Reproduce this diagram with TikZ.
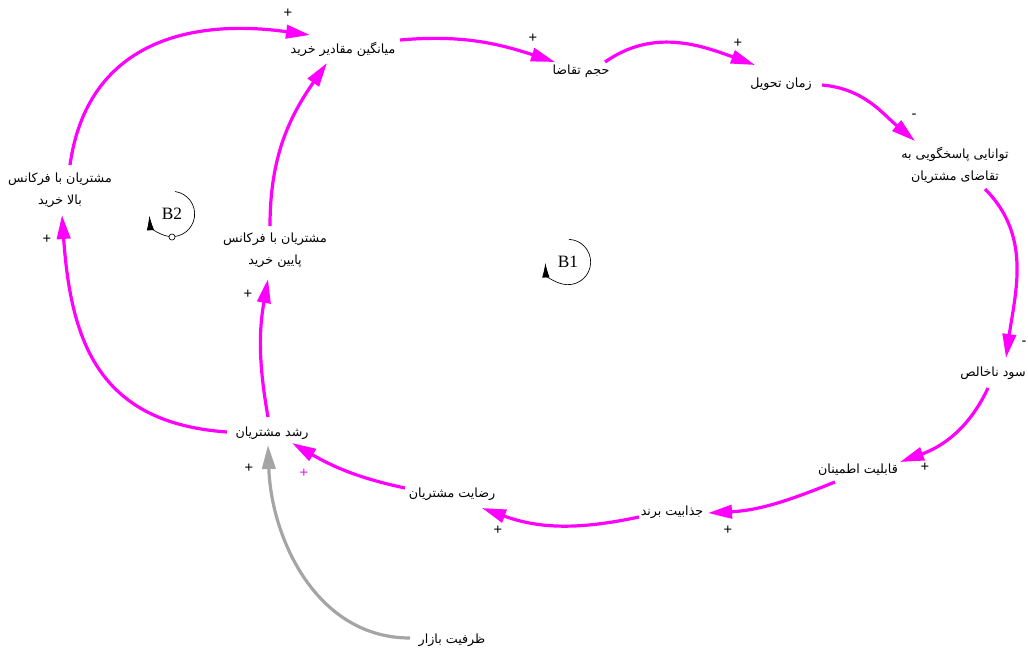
\documentclass[tikz,border=0pt]{standalone}
\usepackage{fontspec}
\setmainfont{Liberation Serif}
\setsansfont{Liberation Sans}
\newfontfamily\arabicfont[Script=Arabic]{DejaVu Sans}
\TeXXeTstate=1
\usetikzlibrary{arrows.meta,calc}
\definecolor{loopmag}{RGB}{255,0,255}
\definecolor{capgray}{RGB}{165,165,165}
\tikzset{%
    var/.style={inner sep=1pt, align=center,
        font=\arabicfont\fontsize{9.5}{16.5}\selectfont},
    link/.style={draw=loopmag, line width=2.4pt,
        -{Triangle[length=18pt, width=10pt]}},
    sign/.style={inner sep=0pt, font=\sffamily\fontsize{11}{11}\selectfont},
    loopname/.style={inner sep=0pt, font=\fontsize{13}{13}\selectfont},
    looparc/.style={line width=0.5pt, -{Latex[length=11pt, width=5.5pt]}}
}

\begin{document}
\begin{tikzpicture}[x=0.75pt, y=0.75pt]
  \useasboundingbox (0,0) rectangle (1028,-653);

  % variables
  \node (ma) [var] at (343,-49) {\beginR میانگین مقادیر خرید\endR};
  \node (dv) [var] at (581,-71) {\beginR حجم تقاضا\endR};
  \node (dt) [var] at (781,-84) {\beginR زمان تحویل\endR};
  \node (rc) [var] at (955,-165) {\beginR توانایی پاسخگویی به\endR\\
    \beginR تقاضای مشتریان\endR};
  \node (gp) [var] at (993,-373) {\beginR سود ناخالص\endR};
  \node (rl) [var] at (858,-470) {\beginR قابلیت اطمینان\endR};
  \node (ba) [var] at (672,-512) {\beginR جذابیت برند\endR};
  \node (cs) [var] at (452,-494) {\beginR رضایت مشتریان\endR};
  \node (cg) [var] at (272,-433) {\beginR رشد مشتریان\endR};
  \node (mc) [var] at (452,-640) {\beginR ظرفیت بازار\endR};
  \node (hf) [var] at (60,-190) {\beginR مشتریان با فرکانس\endR\\
    \beginR بالا خرید\endR};
  \node (lf) [var] at (275,-250) {\beginR مشتریان با فرکانس\endR\\
    \beginR پایین خرید\endR};

  % loop markers
  \node (b1) [loopname] at (568,-262) {B1};
  \node (b2) [loopname] at (172,-214) {B2};
  \draw [looparc] (b1.center) ++(88:17pt) arc [start angle=88,
    end angle=-178, radius=17pt];
  \draw [looparc] (b2.center) ++(82:17pt) arc [start angle=82,
    end angle=-176, radius=17pt];
  \draw [fill=white, line width=0.5pt] ($(b2.center)+(0,-23)$)
    circle [radius=2.3pt];

  % links
  \draw [link] ($(ma)+(57,9)$) to [out=5, in=162] ($(dv)+(-26,9)$);
  \draw [link] ($(dv)+(24,9)$) to [out=35, in=160] ($(dt)+(-26,19)$);
  \draw [link] ($(dt)+(41,-1)$) to [out=-5, in=140] ($(rc)+(-40,24)$);
  \draw [link] ($(rc)+(30,-24)$) to [out=-45, in=82] ($(gp)+(13,15)$);
  \draw [link] ($(gp)+(-5,-15)$) to [out=-115, in=20] ($(rl)+(42,8)$);
  \draw [link] ($(rl)+(-23,-12)$) to [out=-158, in=3] ($(ba)+(36,-1)$);
  \draw [link] ($(ba)+(-33,-5)$) to [out=-168, in=-20] ($(cs)+(30,-14)$);
  \draw [link] ($(cs)+(-47,6)$) to [out=168, in=-30] ($(cg)+(20,-10)$);
  \draw [link] ($(cg)+(-45,1)$) to [out=176, in=-86, looseness=1.2]
    ($(hf)+(2,-25)$);
  \draw [link] ($(hf)+(10,25)$) to [out=82, in=172, looseness=1.15]
    ($(ma)+(-33,14)$);
  \draw [link] ($(cg)+(-4,16)$) to [out=100, in=-100] ($(lf)+(-7,-29)$);
  \draw [link] ($(lf)+(-5,24)$) to [out=90, in=-125] ($(ma)+(-16,-14)$);
  \draw [link, draw=capgray] ($(mc)+(-42,2)$) to [out=180, in=-88]
    ($(cg)+(-4,-12)$);

  % polarities
  \node (s1) [sign] at (533,-38) {+};
  \node (s2) [sign] at (738,-43) {+};
  \node (s3) [sign] at (914,-116) {-};
  \node (s4) [sign] at (1024,-343) {-};
  \node (s5) [sign] at (925,-467) {+};
  \node (s6) [sign] at (728,-530) {+};
  \node (s7) [sign] at (498,-530) {+};
  \node (s8) [sign, text=loopmag] at (304,-473) {+};
  \node (s9) [sign] at (47,-239) {+};
  \node (s10) [sign] at (288,-13) {+};
  \node (s11) [sign] at (248,-294) {+};
  \node (s12) [sign] at (249,-468) {+};
\end{tikzpicture}
\end{document}
